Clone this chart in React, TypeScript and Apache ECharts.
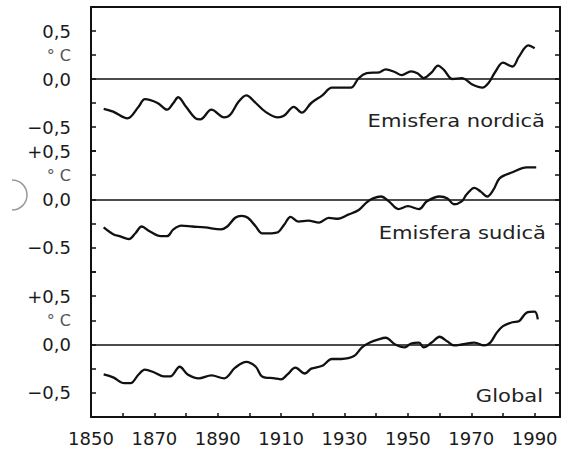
import React, { useEffect, useRef } from 'react';
import * as echarts from 'echarts';

// Northern hemisphere (Emisfera nordică)
const nhYears = [1854, 1857, 1861.5, 1865, 1867, 1871, 1874, 1876, 1877.5, 1880, 1883, 1884.5, 1888, 1892, 1894, 1896.5, 1899, 1902, 1905, 1909, 1911, 1914, 1916.5, 1919.5, 1923, 1926, 1929, 1932, 1934.5, 1937, 1941, 1943, 1946, 1948, 1951, 1953, 1955, 1957.5, 1959.5, 1961.5, 1964, 1967, 1970.5, 1973.5, 1975.5, 1977.5, 1980, 1983, 1985, 1988, 1990];
const nhValues = [-0.31, -0.34, -0.41, -0.29, -0.21, -0.25, -0.32, -0.25, -0.19, -0.29, -0.41, -0.42, -0.32, -0.40, -0.37, -0.24, -0.17, -0.25, -0.34, -0.40, -0.38, -0.29, -0.35, -0.25, -0.17, -0.09, -0.09, -0.09, 0.01, 0.06, 0.07, 0.10, 0.07, 0.04, 0.08, 0.06, 0.01, 0.07, 0.14, 0.09, 0.0, 0.01, -0.06, -0.09, -0.04, 0.07, 0.17, 0.13, 0.23, 0.35, 0.32];

// Southern hemisphere (Emisfera sudică)
const shYears = [1854, 1857, 1859, 1862, 1864, 1866, 1868.5, 1872, 1874, 1876, 1878.5, 1882, 1886, 1891, 1893, 1895.5, 1897.5, 1899.5, 1902, 1904, 1907, 1909, 1911, 1913, 1915.5, 1918.5, 1922, 1925, 1928, 1931, 1934.5, 1937, 1939, 1941.5, 1944, 1947, 1950, 1953.5, 1956, 1960, 1962.5, 1964.5, 1967, 1968.5, 1971, 1973, 1975, 1977, 1979, 1983, 1987.5, 1990.5];
const shValues = [-0.29, -0.36, -0.38, -0.41, -0.35, -0.28, -0.33, -0.38, -0.38, -0.31, -0.27, -0.28, -0.29, -0.31, -0.28, -0.19, -0.17, -0.19, -0.28, -0.35, -0.35, -0.34, -0.26, -0.18, -0.23, -0.22, -0.24, -0.19, -0.20, -0.16, -0.11, -0.03, 0.01, 0.03, -0.02, -0.10, -0.07, -0.10, -0.02, 0.03, 0.01, -0.05, -0.02, 0.05, 0.12, 0.08, 0.03, 0.10, 0.22, 0.28, 0.33, 0.33];

// Global
const glYears = [1854, 1857, 1860.5, 1862.5, 1865, 1867, 1870, 1873, 1875, 1878, 1880.5, 1884, 1888, 1892, 1895.5, 1899, 1902, 1904, 1908, 1910, 1912, 1914.5, 1917.5, 1919.5, 1923, 1926, 1929, 1933, 1935.5, 1938, 1940.5, 1943, 1946, 1949, 1951, 1953.5, 1955, 1957.5, 1960, 1962.5, 1964.5, 1967, 1971, 1974, 1976, 1978, 1980, 1983, 1985, 1987.5, 1990, 1991];
const glValues = [-0.31, -0.34, -0.40, -0.40, -0.31, -0.26, -0.29, -0.33, -0.33, -0.23, -0.31, -0.35, -0.32, -0.35, -0.24, -0.18, -0.23, -0.33, -0.35, -0.36, -0.31, -0.24, -0.30, -0.25, -0.22, -0.15, -0.15, -0.12, -0.03, 0.02, 0.05, 0.07, 0.0, -0.03, 0.01, 0.02, -0.03, 0.02, 0.08, 0.03, -0.01, 0.0, 0.02, -0.01, 0.02, 0.12, 0.19, 0.23, 0.24, 0.33, 0.34, 0.26];

const panelTitles = ['Emisfera nordică', 'Emisfera sudică', 'Global'];

// y tick labels per panel (value -> text)
const tickValues = [0.5, 0.25, 0, -0.5];
const topTickTexts = ['0,5', '{u|° C}', '0,0', '−0,5'];
const midTickTexts = ['+0,5', '{u|° C}', '0,0', '−0.5'];
const botTickTexts = ['+0,5', '{u|° C}', '0,0', '−0,5'];

const xMin = 1850;
const xMax = 1998;
const yearLabelStep = 20;

const FONT = 'DejaVu Sans';

export default function App() {
  const ref = useRef<HTMLDivElement>(null);

  useEffect(() => {
    if (!ref.current) return;
    const chart = echarts.init(ref.current, undefined, { renderer: 'svg' });

    const grids = [
      { left: 91, right: 3, top: 7, height: 144 },
      { left: 91, right: 3, top: 151, height: 121 },
      { left: 91, right: 3, top: 272, height: 145 },
    ];
    const ranges = [
      [-0.75, 0.75],
      [-0.75, 0.5],
      [-0.75, 0.75],
    ];
    const texts = [topTickTexts, midTickTexts, botTickTexts];
    const seriesData = [
      [nhYears, nhValues],
      [shYears, shValues],
      [glYears, glValues],
    ];

    const lineBlack = { color: '#111', width: 2 };

    const xAxes = grids.map((_, i) => ({
      type: 'value',
      gridIndex: i,
      min: xMin,
      max: xMax,
      interval: 10,
      position: i === 0 ? 'top' : 'bottom',
      show: i !== 1,
      axisLine: { show: true, onZero: false, lineStyle: lineBlack },
      axisTick: { show: i === 2, inside: true, length: 4, lineStyle: { color: '#111', width: 1.5 } },
      axisLabel: {
        show: i === 2,
        margin: 12,
        color: '#1a1a1a',
        fontFamily: FONT,
        fontSize: 18,
        formatter: (v: number) =>
          v <= 1990 && (v - xMin) % yearLabelStep === 0 ? String(v) : '',
      },
      splitLine: { show: false },
    }));

    const yAxes: any[] = [];
    grids.forEach((_, i) => {
      const labelMap: Record<string, string> = {};
      tickValues.forEach((tv, k) => {
        labelMap[String(Math.round(tv * 100))] = texts[i][k];
      });
      yAxes.push({
        type: 'value',
        gridIndex: i,
        min: ranges[i][0],
        max: ranges[i][1],
        interval: 0.25,
        position: 'left',
        axisLine: { show: true, onZero: false, lineStyle: lineBlack },
        axisTick: { show: true, inside: true, length: 5, lineStyle: { color: '#111', width: 1.5 } },
        axisLabel: {
          show: true,
          margin: 20,
          color: '#1a1a1a',
          fontFamily: FONT,
          fontSize: 18,
          showMinLabel: true,
          showMaxLabel: true,
          formatter: (v: number) => labelMap[String(Math.round(v * 100))] || '',
          rich: {
            u: { fontFamily: FONT, fontSize: 16, color: '#555' },
          },
        },
        splitLine: { show: false },
      });
      yAxes.push({
        type: 'value',
        gridIndex: i,
        min: ranges[i][0],
        max: ranges[i][1],
        interval: 0.25,
        position: 'right',
        axisLine: { show: true, onZero: false, lineStyle: lineBlack },
        axisTick: { show: true, inside: true, length: 5, lineStyle: { color: '#111', width: 1.5 } },
        axisLabel: { show: false },
        splitLine: { show: false },
      });
    });

    const series = seriesData.map(([ys, vs], i) => ({
      type: 'line',
      xAxisIndex: i,
      yAxisIndex: i * 2,
      data: (ys as number[]).map((y, k) => [y, (vs as number[])[k]]),
      smooth: 0.35,
      showSymbol: false,
      symbol: 'none',
      lineStyle: { color: '#111', width: 2.3 },
      markLine: {
        silent: true,
        symbol: 'none',
        label: { show: false },
        lineStyle: { color: '#111', width: 1.6, type: 'solid' },
        data: [{ yAxis: 0 }],
      },
    }));

    const titlePos = [
      { x: 545, y: 121 },
      { x: 546, y: 233 },
      { x: 543, y: 396 },
    ];

    const graphic: any[] = panelTitles.map((t, i) => ({
      type: 'text',
      x: titlePos[i].x,
      y: titlePos[i].y,
      scaleX: 1.17,
      style: {
        text: t,
        fontFamily: FONT,
        fontSize: 18,
        fill: '#222',
        align: 'right',
        verticalAlign: 'middle',
      },
    }));
    graphic.push({
      type: 'arc',
      shape: { cx: 12, cy: 195, r: 15, startAngle: -Math.PI / 2, endAngle: Math.PI / 2 },
      style: { stroke: '#999', lineWidth: 1.5, fill: 'none' },
    });

    chart.setOption({
      animation: false,
      backgroundColor: '#fff',
      grid: grids,
      xAxis: xAxes,
      yAxis: yAxes,
      series,
      graphic,
    } as any);

    return () => chart.dispose();
  }, []);

  return (
    <div
      ref={ref}
      style={{ position: 'absolute', left: 0, top: 0, width: 563, height: 449, background: '#fff' }}
    />
  );
}
